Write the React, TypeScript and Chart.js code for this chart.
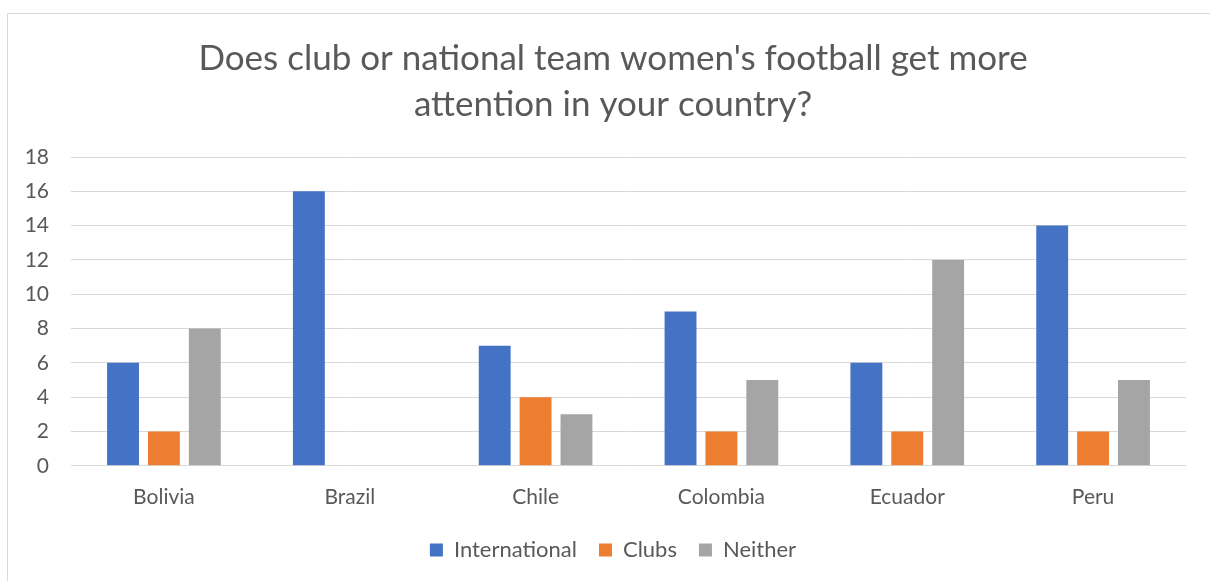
import React, { useEffect, useRef } from "react";
import { Chart, registerables } from "chart.js";

Chart.register(...registerables);

const categories = ["Bolivia", "Brazil", "Chile", "Colombia", "Ecuador", "Peru"];
const international = [6, 16, 7, 9, 6, 14];
const clubs = [2, 0, 4, 2, 2, 2];
const neither = [8, 0, 3, 5, 12, 5];
const titleLines = ["Does club or national team women's football get more", "attention in your country?"];

const FONT = "Lato, 'Open Sans', sans-serif";
const TEXT = "#595959";

export default function App() {
  const ref = useRef<HTMLCanvasElement | null>(null);
  useEffect(() => {
    document.body.style.overflow = "hidden";
    const chart = new Chart(ref.current!, {
      type: "bar",
      data: {
        labels: categories,
        datasets: [
          { label: "International", data: international, backgroundColor: "#4472C4" },
          { label: "Clubs", data: clubs, backgroundColor: "#ED7D31" },
          { label: "Neither", data: neither, backgroundColor: "#A5A5A5" },
        ],
      },
      options: {
        animation: false,
        responsive: false,
        maintainAspectRatio: false,
        layout: { padding: { left: 0, right: 0, top: 22, bottom: 23 } },
        datasets: { bar: { categoryPercentage: 0.66, barPercentage: 0.78 } },
        plugins: {
          title: {
            display: true,
            text: titleLines,
            color: TEXT,
            font: { family: FONT, size: 35, weight: "normal", lineHeight: 1.3 },
            padding: { top: 0, bottom: 30 },
          },
          legend: {
            position: "bottom",
            labels: {
              color: TEXT,
              font: { family: FONT, size: 22 },
              boxWidth: 13,
              boxHeight: 13,
              padding: 22,
            },
          },
          tooltip: { enabled: false },
        },
        scales: {
          x: {
            grid: { display: false },
            border: { display: false },
            ticks: { color: TEXT, font: { family: FONT, size: 21 }, padding: 11 },
            afterFit: (s: any) => { s.height -= 4; },
          },
          y: {
            min: 0,
            max: 18,
            ticks: { stepSize: 2, color: TEXT, font: { family: FONT, size: 21 }, padding: 22 },
            grid: { color: "#d9d9d9", lineWidth: 1, drawTicks: false },
            border: { display: false },
            afterFit: (s: any) => { s.width = 63; },
          },
          yr: {
            axis: "y",
            type: "linear",
            position: "right",
            display: true,
            grid: { display: false, drawTicks: false },
            border: { display: false },
            ticks: { display: false },
            afterFit: (s: any) => { s.width = 32; },
          },
        },
      },
    });
    return () => chart.destroy();
  }, []);
  return (
    <div style={{ position: "fixed", left: 7, top: 13, width: 1210, height: 600, border: "1px solid #d9d9d9", background: "#fff" }}>
      <canvas ref={ref} width={1210} height={580} style={{ display: "block" }} />
    </div>
  );
}
